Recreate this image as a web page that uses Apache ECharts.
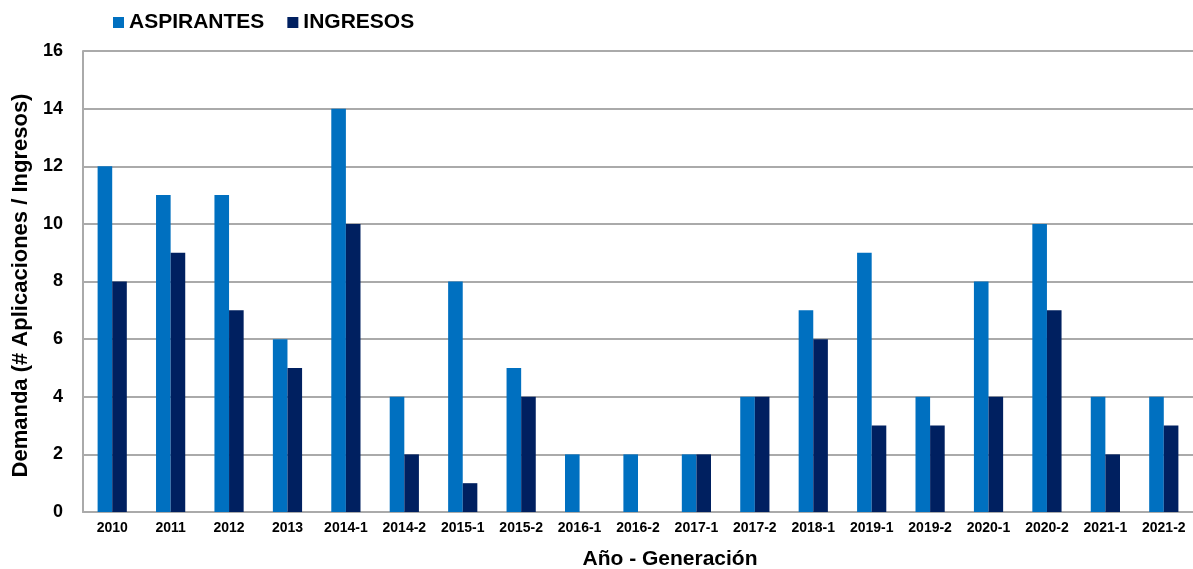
<!DOCTYPE html>
<html>
<head>
<meta charset="utf-8">
<script src="https://cdn.jsdelivr.net/npm/echarts@6/dist/echarts.min.js"></script>
<style>html,body{margin:0;padding:0;background:#fff;overflow:hidden}#c{width:1193px;height:569px}</style>
</head>
<body>
<div id="c"></div>
<script>
const categories = ['2010','2011','2012','2013','2014-1','2014-2','2015-1','2015-2','2016-1','2016-2','2017-1','2017-2','2018-1','2019-1','2019-2','2020-1','2020-2','2021-1','2021-2'];
const aspirantes = [12,11,11,6,14,4,8,5,2,2,2,4,7,9,4,8,10,4,4];
const ingresos = [8,9,7,5,10,2,1,4,0,0,2,4,6,3,3,4,7,2,3];
const yTicks = {min:0, max:16, interval:2};

const chart = echarts.init(document.getElementById('c'));
const font = 'Liberation Sans, Arial, sans-serif';
chart.setOption({
  animation:false,
  textStyle:{fontFamily:font},
  legend:{
    left:113, top:12, padding:0, itemWidth:11, itemHeight:11, itemGap:23,
    icon:'rect',
    textStyle:{fontSize:21, fontWeight:'bold', color:'#000', fontFamily:font},
    data:['ASPIRANTES','INGRESOS']
  },
  grid:{left:83, right:0, top:51, bottom:57, containLabel:false, outerBoundsMode:'none'},
  xAxis:{
    type:'category', data:categories,
    name:'Año - Generación', nameLocation:'middle', nameGap:37,
    nameTextStyle:{fontSize:21, fontWeight:'bold', color:'#000', fontFamily:font, padding:[0,0,0,64]},
    axisLine:{lineStyle:{color:'#aaaaaa', width:2}},
    axisTick:{show:false},
    axisLabel:{fontSize:14, fontWeight:'bold', color:'#000', margin:9, interval:0, fontFamily:font}
  },
  yAxis:{
    type:'value', min:yTicks.min, max:yTicks.max, interval:yTicks.interval,
    name:'Demanda (# Aplicaciones / Ingresos)', nameLocation:'middle', nameGap:50,
    nameTextStyle:{fontSize:22, fontWeight:'bold', color:'#000', fontFamily:font, padding:[0,8,0,0]},
    axisLine:{show:true, lineStyle:{color:'#aaaaaa', width:2}},
    axisTick:{show:false},
    splitLine:{lineStyle:{color:'#aaaaaa', width:2}},
    axisLabel:{fontSize:18, fontWeight:'bold', color:'#000', margin:20, fontFamily:font}
  },
  series:[
    {name:'ASPIRANTES', type:'bar', data:aspirantes, barGap:'0%', barCategoryGap:'50%', itemStyle:{color:'#0070C0'}},
    {name:'INGRESOS', type:'bar', data:ingresos, itemStyle:{color:'#002060'}}
  ]
});
</script>
</body>
</html>
